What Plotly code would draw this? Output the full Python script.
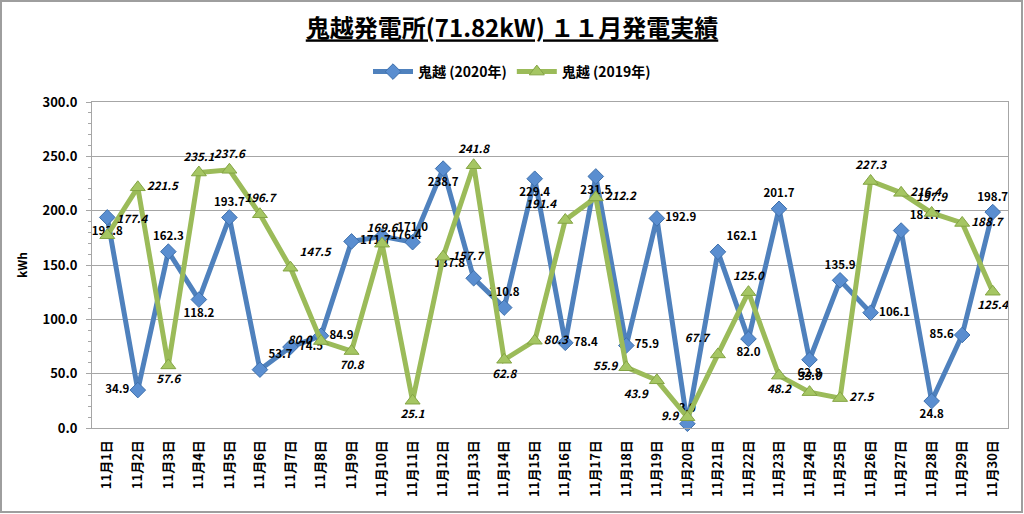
import plotly.graph_objects as go

days = [f"11月{d}日" for d in range(1, 31)]
gen_2020 = [193.8, 34.9, 162.3, 118.2, 193.7, 53.7, 74.5, 84.9, 171.7, 176.4,
            171.0, 238.7, 137.8, 110.8, 229.4, 78.4, 231.5, 75.9, 192.9, 3.9,
            162.1, 82.0, 201.7, 62.8, 135.9, 106.1, 181.7, 24.8, 85.6, 198.7]
gen_2019 = [177.4, 221.5, 57.6, 235.1, 237.6, 196.7, 147.5, 80.0, 70.8, 169.6,
            25.1, 157.7, 241.8, 62.8, 80.3, 191.4, 212.2, 55.9, 43.9, 9.9,
            67.7, 125.0, 48.2, 33.0, 27.5, 227.3, 216.4, 197.9, 188.7, 125.4]
name_2020 = "鬼越 (2020年)"
name_2019 = "鬼越 (2019年)"
title_text = "鬼越発電所(71.82kW) １１月発電実績"
y_ticks = [0, 50, 100, 150, 200, 250, 300]

pos_2020 = ["bottom center", "middle left", "top center", "bottom center", "top center",
            "top right", "middle right", "middle right", "middle right", "middle right",
            "top center", "bottom center", "top left", "top center", "bottom center",
            "middle right", "bottom center", "middle right", "middle right", "top center",
            "top right", "bottom center", "top center", "bottom center", "top center",
            "middle right", "top right", "bottom center", "middle left", "top center"]
pos_2019 = ["top right", "middle right", "bottom center", "top center", "top center",
            "top center", "top right", "middle left", "bottom center", "top center",
            "bottom center", "middle right", "top center", "bottom center", "middle right",
            "top left", "middle right", "middle left", "bottom left", "middle left",
            "top left", "top center", "bottom center", "top center", "middle right",
            "top center", "middle right", "top center", "middle right", "bottom center"]

FONT = "Noto Sans CJK JP"
BLUE = "#4F81BD"
GREEN = "#9BBB59"

fig = go.Figure()
fig.add_trace(go.Scatter(
    x=days, y=gen_2020, name=name_2020, mode="lines+markers+text",
    line=dict(color=BLUE, width=5),
    marker=dict(symbol="diamond", size=12, color="#5A8ED0", line=dict(color="#3E70AC", width=1)),
    text=[f"{v:.1f}" for v in gen_2020], textposition=pos_2020,
    textfont=dict(family=FONT, size=11.5, color="#000000", weight="bold"),
    cliponaxis=False,
))
fig.add_trace(go.Scatter(
    x=days, y=gen_2019, name=name_2019, mode="lines+markers+text",
    line=dict(color=GREEN, width=5),
    marker=dict(symbol="triangle-up", size=13, color="#A5C663", line=dict(color="#84A444", width=1)),
    text=[f"{v:.1f}" for v in gen_2019], textposition=pos_2019,
    textfont=dict(family=FONT, size=11.5, color="#000000", weight="bold", style="italic"),
    cliponaxis=False,
))

W, H = 1024, 514
L, R, T, B = 92, 16, 102, 86
pw, ph = W - L - R, H - T - B

fig.update_layout(
    width=W, height=H,
    margin=dict(l=L, r=R, t=T, b=B, autoexpand=False),
    paper_bgcolor="white", plot_bgcolor="white",
    font=dict(family=FONT, color="#000000"),
    title=dict(text=f"<u><b>{title_text}</b></u>", x=0.5, xref="container", xanchor="center",
               y=1 - 29 / H, yref="container", yanchor="middle",
               font=dict(size=24, family=FONT, color="#000000")),
    legend=dict(orientation="h", x=0.5, xref="container", xanchor="center",
                y=1 - 72 / H, yref="container", yanchor="middle",
                font=dict(size=14, family=FONT, weight="bold"), itemwidth=40),
    showlegend=True,
)
fig.update_yaxes(
    range=[0, 300], tickvals=y_ticks, tickformat=".1f", automargin=False,
    tickfont=dict(size=13, family=FONT, weight="bold"), ticklabelstandoff=6,
    showgrid=True, gridcolor="#A6A6A6", gridwidth=1,
    showline=True, linecolor="#A6A6A6", linewidth=1, mirror=True,
    ticks="outside", ticklen=5, tickcolor="#A6A6A6",
    minor=dict(dtick=10, ticks="outside", ticklen=3, tickcolor="#A6A6A6", showgrid=False),
    title=dict(text="<b>kWh</b>", font=dict(size=12, family=FONT), standoff=12),
    zeroline=False,
)
fig.update_xaxes(
    type="category", tickangle=-90, automargin=False, range=[-0.5, len(days) - 0.5],
    tickfont=dict(size=13, family=FONT, weight="bold"), ticklabelstandoff=6,
    showgrid=False, showline=True, linecolor="#A6A6A6", linewidth=1, mirror=True,
    ticks="",
)

fig.add_shape(type="rect", xref="paper", yref="paper",
              x0=(1 - L) / pw, x1=(W - 2 - L) / pw,
              y0=(T + ph - (H - 2)) / ph, y1=(T + ph - 1) / ph,
              line=dict(color="#9E9E9E", width=2), fillcolor="rgba(0,0,0,0)", layer="below")

fig.write_html("out.html", config={"displayModeBar": False},
               post_script="document.body.style.margin='0px';document.body.style.overflow='hidden';")
